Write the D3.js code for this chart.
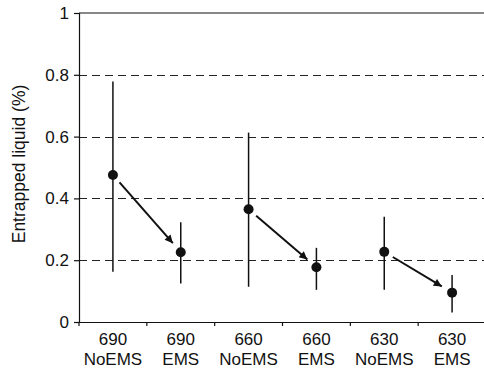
<!DOCTYPE html>
<html>
<head>
<meta charset="utf-8">
<script src="https://cdn.jsdelivr.net/npm/d3@7"></script>
<style>
  body { margin: 0; background: #fff; }
  text { font-family: "Liberation Sans", Arial, sans-serif; fill: #111; }
</style>
</head>
<body>
<svg id="viz" width="484" height="371"></svg>
<script>
// Data

var temps = ["690", "690", "660", "660", "630", "630"];
var modes = ["NoEMS", "EMS", "NoEMS", "EMS", "NoEMS", "EMS"];
var means = [0.476, 0.226, 0.365, 0.177, 0.227, 0.095];
var upper = [0.778, 0.323, 0.613, 0.240, 0.341, 0.152];
var lower = [0.163, 0.125, 0.114, 0.104, 0.104, 0.031];
var yTicks = [0, 0.2, 0.4, 0.6, 0.8, 1];
var gridVals = [0.2, 0.4, 0.6, 0.8];
// arrows go from each NoEMS point to the EMS point next to it
var arrowPairs = [[0, 1], [2, 3], [4, 5]];

var svg = d3.select("svg"),
    margin = {left: 79, top: 13, right: -2, bottom: 49},
    width = 484 - margin.left - margin.right,
    height = 371 - margin.top - margin.bottom;

var g = svg.append("g")
    .attr("transform", "translate(" + margin.left + "," + margin.top + ")");

var x = d3.scaleBand()
    .domain(d3.range(temps.length))
    .range([0, width])
    .padding(0);

var y = d3.scaleLinear()
    .domain([0, 1])
    .range([height, 0]);

// Arrow marker

svg.append("defs").append("marker")
    .attr("id", "arrow")
    .attr("viewBox", "0 0 10 10")
    .attr("refX", 10)
    .attr("refY", 5)
    .attr("markerWidth", 10)
    .attr("markerHeight", 8)
    .attr("markerUnits", "userSpaceOnUse")
    .attr("orient", "auto")
  .append("path")
    .attr("d", "M0,0L10,5L0,10z")
    .attr("fill", "#111");

// Dashed grid lines

g.append("g")
    .selectAll("line")
    .data(gridVals)
    .enter().append("line")
      .attr("x1", 0)
      .attr("x2", width)
      .attr("y1", d => Math.round(y(d)) + 0.5)
      .attr("y2", d => Math.round(y(d)) + 0.5)
      .attr("stroke", "#222")
      .attr("stroke-width", 1)
      .attr("stroke-dasharray", "8,5");

// Top frame line

g.append("line")
    .attr("x1", 0).attr("x2", width)
    .attr("y1", y(1)).attr("y2", y(1))
    .attr("stroke", "#111")
    .attr("stroke-width", 1.2);

// Axes

var yAxis = g.append("g")
    .call(d3.axisLeft(y).tickValues(yTicks).tickSize(5).tickPadding(5)
      .tickFormat(d => d === 0 || d === 1 ? d3.format("d")(d) : d3.format(".1f")(d)));

var xAxis = g.append("g")
    .attr("transform", "translate(0," + height + ")")
    .call(d3.axisBottom(x).tickSize(0).tickFormat(""));

[yAxis, xAxis].forEach(a => {
  a.select(".domain").attr("stroke", "#111").attr("stroke-width", 1.2);
  a.selectAll("line").attr("stroke", "#111").attr("stroke-width", 1.2);
});

yAxis.selectAll("text")
    .style("font-size", "17px")
    .attr("fill", "#111");

// x ticks on the band boundaries
g.append("g")
    .selectAll("line")
    .data(d3.range(temps.length))
    .enter().append("line")
      .attr("x1", d => x(d))
      .attr("x2", d => x(d))
      .attr("y1", height)
      .attr("y2", height + 4)
      .attr("stroke", "#111")
      .attr("stroke-width", 1.2);

// Two-line x labels

var labels = g.append("g")
    .selectAll("text")
    .data(d3.range(temps.length))
    .enter().append("text")
      .attr("x", d => x(d) + x.bandwidth() / 2)
      .attr("y", height + 23)
      .attr("text-anchor", "middle")
      .style("font-size", "17px");

labels.append("tspan")
    .attr("x", d => x(d) + x.bandwidth() / 2)
    .text(d => temps[d]);

labels.append("tspan")
    .attr("x", d => x(d) + x.bandwidth() / 2)
    .attr("dy", 20)
    .text(d => modes[d]);

// Y axis title

svg.append("text")
    .attr("transform", "translate(25,164) rotate(-90)")
    .attr("text-anchor", "middle")
    .style("font-size", "17.5px")
    .text("Entrapped liquid (%)");

// Error bars

var cx = i => x(i) + x.bandwidth() / 2;

g.append("g")
    .selectAll("line")
    .data(d3.range(means.length))
    .enter().append("line")
      .attr("x1", cx)
      .attr("x2", cx)
      .attr("y1", d => y(upper[d]))
      .attr("y2", d => y(lower[d]))
      .attr("stroke", "#111")
      .attr("stroke-width", 1.5);

// Points

g.append("g")
    .selectAll("circle")
    .data(d3.range(means.length))
    .enter().append("circle")
      .attr("cx", cx)
      .attr("cy", d => y(means[d]))
      .attr("r", 5)
      .attr("fill", "#111");

// Arrows between the points

g.append("g")
    .selectAll("line")
    .data(arrowPairs)
    .enter().append("line")
      .each(function(p) {
        var x0 = cx(p[0]), y0 = y(means[p[0]]),
            x1 = cx(p[1]), y1 = y(means[p[1]]),
            dx = x1 - x0, dy = y1 - y0,
            len = Math.sqrt(dx * dx + dy * dy),
            ux = dx / len, uy = dy / len;
        d3.select(this)
          .attr("x1", x0 + ux * 10)
          .attr("y1", y0 + uy * 10)
          .attr("x2", x1 - ux * 12)
          .attr("y2", y1 - uy * 12);
      })
      .attr("stroke", "#111")
      .attr("stroke-width", 2)
      .attr("marker-end", "url(#arrow)");
</script>
</body>
</html>
